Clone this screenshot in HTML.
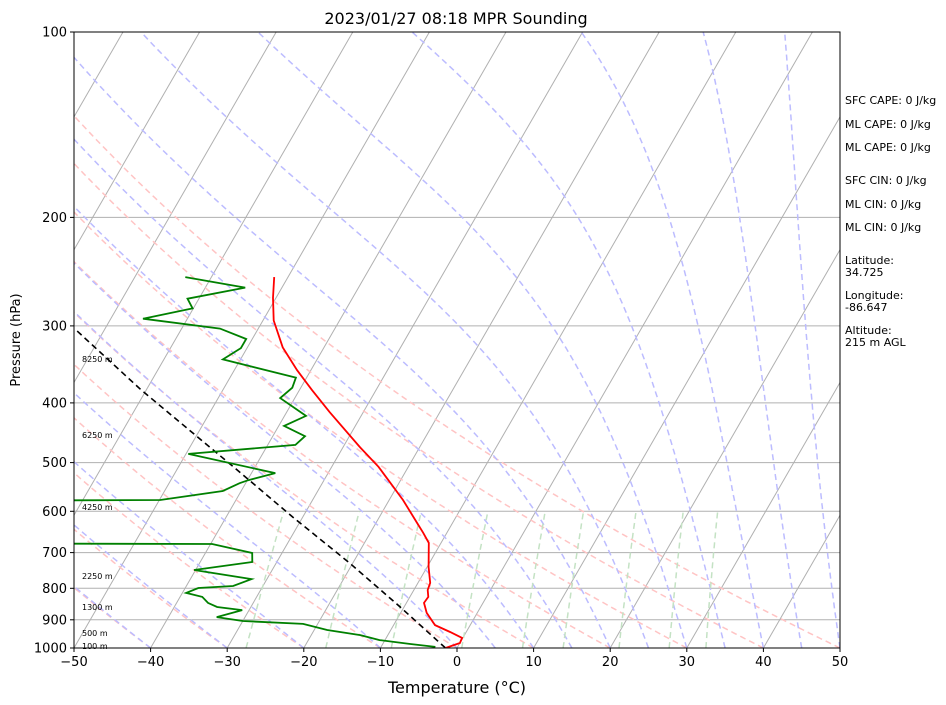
<!DOCTYPE html>
<html><head><meta charset="utf-8"><style>
html,body{margin:0;padding:0;background:#fff;}
svg{display:block;font-family:"DejaVu Sans","Liberation Sans",sans-serif;}
</style></head><body>
<svg id="chart" width="946" height="705" viewBox="0 0 946 705">
<defs><clipPath id="plotclip"><rect x="74" y="32" width="766" height="616"/></clipPath></defs>
<rect x="0" y="0" width="946" height="705" fill="#fff"/>
<g id="bg" clip-path="url(#plotclip)"></g>
<g id="series" clip-path="url(#plotclip)"></g>
<rect x="74" y="32" width="766" height="616" fill="none" stroke="#000" stroke-width="1"/>
<g id="axes"></g>
<text x="456" y="24" text-anchor="middle" font-size="16">2023/01/27 08:18 MPR Sounding</text>
<text x="20" y="340" text-anchor="middle" font-size="13" transform="rotate(-90 20 340)">Pressure (hPa)</text>
<text x="457" y="693" text-anchor="middle" font-size="16">Temperature (°C)</text>
<g font-size="8" fill="#000">
<text x="82" y="362">8250 m</text>
<text x="82" y="438">6250 m</text>
<text x="82" y="510">4250 m</text>
<text x="82" y="579">2250 m</text>
<text x="82" y="610">1300 m</text>
<text x="82" y="636">500 m</text>
<text x="82" y="649">100 m</text>
</g>
<g font-size="11" fill="#000">
<text x="845" y="104">SFC CAPE: 0 J/kg</text>
<text x="845" y="128">ML CAPE: 0 J/kg</text>
<text x="845" y="151">ML CAPE: 0 J/kg</text>
<text x="845" y="184">SFC CIN: 0 J/kg</text>
<text x="845" y="208">ML CIN: 0 J/kg</text>
<text x="845" y="231">ML CIN: 0 J/kg</text>
<text x="845" y="264">Latitude:</text>
<text x="845" y="276">34.725</text>
<text x="845" y="299">Longitude:</text>
<text x="845" y="311">-86.647</text>
<text x="845" y="334">Altitude:</text>
<text x="845" y="346">215 m AGL</text>
</g>
</svg>
<script>
const tempP = [1000,981.5,963,942,918,877,845,826,805,784,739,675,650,627,575,508,472,414,381,354,325,294,270,250];
const tempT = [-1.5,0.0,-0.1,-2.1,-4.6,-6.6,-7.7,-7.6,-8.2,-8.4,-9.8,-11.6,-13.1,-14.6,-18.2,-23.9,-27.8,-34.4,-38.4,-41.8,-45.4,-48.6,-50.4,-51.8];
const dewP = [996,985,971,953,935,914,904,891,868,858,845,826,814,799,793,773,747,725,701,678,677,576,575,556,540,534,520,484,468,453,436,420,393,378,364,340,326,315,303,292,281,271,260,250];
const dewT = [-2.9,-6.4,-10.7,-13.6,-18.3,-21.9,-30.0,-33.7,-30.9,-34.4,-35.9,-37.1,-39.5,-38.3,-33.9,-32.0,-40.2,-33.2,-33.9,-39.8,-62,-64,-49.9,-42.4,-40.8,-39.9,-36.9,-49.7,-36.4,-35.8,-39.3,-37.2,-41.9,-41.1,-41.4,-52.3,-50.8,-50.8,-55.0,-65.8,-60.1,-61.5,-54.8,-63.4];
const parcelP = [1000,858,728,613,514,381,303];
const parcelT = [-1.5,-10.5,-20.4,-31.3,-42.1,-60.7,-74.0];
const pressureTicks = [100,200,300,400,500,600,700,800,900,1000];
const tempTicks = [-50,-40,-30,-20,-10,0,10,20,30,40,50];
const mixingRatios = [0.0004,0.001,0.002,0.004,0.007,0.01,0.016,0.024,0.032];
const dryT0 = [-40,-30,-20,-10,0,10,20,30,40,50];
const moistT0 = [-50,-40,-30,-20,-10,0,5,10,15,20,25,30,35,40,45,50];

const L=74,R=840,T0=32,B=648,PX=7.66,SK=0.577;
function Y(p){return B-616*Math.log10(1000/p);}
function X(t,p){return L+(t+50)*PX+SK*(B-Y(p));}
const NS='http://www.w3.org/2000/svg';
function path(g,pts,stroke,w,dash,name){
  const e=document.createElementNS(NS,'path');
  e.setAttribute('d',pts.map((q,i)=>(i?'L':'M')+q[0].toFixed(1)+','+q[1].toFixed(1)).join(''));
  e.setAttribute('fill','none');e.setAttribute('stroke',stroke);e.setAttribute('stroke-width',w);
  if(dash)e.setAttribute('stroke-dasharray',dash);
  
  
  g.appendChild(e);return e;
}
const bg=document.getElementById('bg'),se=document.getElementById('series'),ax=document.getElementById('axes');
const plevs=[];for(let p=1000;p>=100;p-=5)plevs.push(p);
for(const p of pressureTicks){if(p===100||p===1000)continue;
  path(bg,[[L,Y(p)],[R,Y(p)]],'#b0b0b0',1,null,'grid-line-'+p);}
for(let t=-130;t<=50;t+=10)path(bg,[[X(t,1000),Y(1000)],[X(t,100),Y(100)]],'#b0b0b0',1,null,'isotherm');
for(const t0 of dryT0){const th=t0+273.15;
  path(bg,plevs.map(p=>[X(th*Math.pow(p/1000,0.2857)-273.15,p),Y(p)]),'#ffc4c4',1.5,'6,4','dry-adiabat');}
function es(tc){return 6.112*Math.exp(17.67*tc/(tc+243.5));}
function dTdp(Tk,p){const e=es(Tk-273.15),rs=0.622*e/(p-e),Rd=287.04,Lv=2.501e6,cp=1005.7;
  return (Rd*Tk+Lv*rs)/(p*(cp+Lv*Lv*rs*0.622/(Rd*Tk*Tk)));}
for(const t0 of moistT0){let Tk=t0+273.15,p=1000;const pts=[[X(t0,p),Y(p)]];
  while(p>100){const h=-5;const k1=dTdp(Tk,p),k2=dTdp(Tk+h*k1/2,p+h/2);Tk+=h*k2;p+=h;pts.push([X(Tk-273.15,p),Y(p)]);}
  path(bg,pts,'#bcbcff',1.5,'6,4','moist-adiabat');}
for(const w of mixingRatios){const pts=[];for(let p=1000;p>=600;p-=10){const e=w*p/(0.622+w),ln=Math.log(e/6.112);
  pts.push([X(243.5*ln/(17.67-ln),p),Y(p)]);}
  path(bg,pts,'#c4e2c4',1.5,'6,4','mixing-ratio-line');}
path(se,parcelP.map((p,i)=>[X(parcelT[i],p),Y(p)]),'#000',1.6,'6,4','parcel-profile');
path(se,dewP.map((p,i)=>[X(dewT[i],p),Y(p)]),'#008000',1.8,null,'dewpoint-line');
path(se,tempP.map((p,i)=>[X(tempT[i],p),Y(p)]),'#ff0000',1.8,null,'temperature-line');
for(const p of pressureTicks){const y=Y(p);
  path(ax,[[L-4,y],[L,y]],'#000',1,null,'y-tick');
  const t=document.createElementNS(NS,'text');t.setAttribute('x',L-7);t.setAttribute('y',y+4.5);
  t.setAttribute('text-anchor','end');t.setAttribute('font-size','13');t.textContent=p;
  
  
  ax.appendChild(t);}
for(const v of tempTicks){const x=L+(v+50)*PX;
  path(ax,[[x,B],[x,B+4]],'#000',1,null,'x-tick');
  const t=document.createElementNS(NS,'text');t.setAttribute('x',x);t.setAttribute('y',B+18);
  t.setAttribute('text-anchor','middle');t.setAttribute('font-size','13');t.textContent=v<0?'\u2212'+(-v):v;
  
  
  ax.appendChild(t);}
</script>
</body></html>
